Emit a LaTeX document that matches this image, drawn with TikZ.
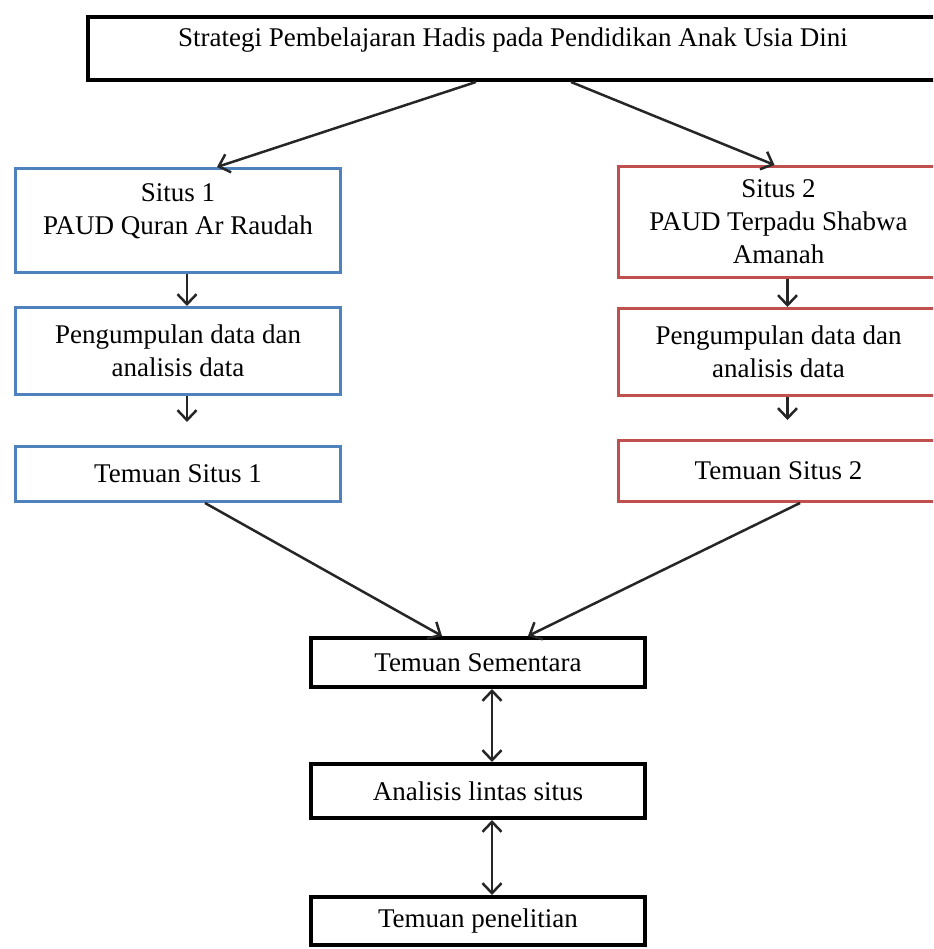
\documentclass[tikz,border=0pt]{standalone}
\usepackage{fontspec}
\setmainfont{Liberation Serif}
\usetikzlibrary{arrows.meta}
\definecolor{biru}{RGB}{79,129,189}
\definecolor{merah}{RGB}{192,80,77}

\begin{document}
\begin{tikzpicture}[x=1pt,y=-1pt,
	kotak/.style={draw,rectangle,align=center,inner sep=0pt,font=\fontsize{27}{33}\selectfont},
	kotakhitam/.style={kotak,line width=4pt,minimum width=334},
	kotakbiru/.style={kotak,draw=biru,line width=3pt,minimum width=325},
	kotakmerah/.style={kotak,draw=merah,line width=3pt,minimum width=320},
	ujungpanah/.tip={Straight Barb[length=10pt,width=19pt]},
	panah/.style={line width=2.5pt,draw=black!85,-ujungpanah},
	panahdua/.style={line width=2.5pt,draw=black!85,ujungpanah-ujungpanah}]
					\clip (0,0) rectangle (933,949);

					\node[kotakhitam,minimum width=850,minimum height=63,text depth=22pt] (strategi) at (513,48.5) {Strategi Pembelajaran Hadis pada Pendidikan Anak Usia Dini};

					\node[kotakbiru,minimum height=104,text depth=22pt] (situs1) at (178,220.5) {Situs 1\\PAUD Quran Ar Raudah};
					\node[kotakbiru,minimum height=87] (kumpul1) at (178,351) {Pengumpulan data dan\\analisis data};
					\node[kotakbiru,minimum height=55] (temuan1) at (178,474) {Temuan Situs 1};

					\node[kotakmerah,minimum height=111] (situs2) at (778.5,222) {Situs 2\\PAUD Terpadu Shabwa\\Amanah};
					\node[kotakmerah,minimum height=87] (kumpul2) at (778.5,352) {Pengumpulan data dan\\analisis data};
					\node[kotakmerah,minimum height=61] (temuan2) at (778.5,471) {Temuan Situs 2};

					\node[kotakhitam,minimum height=49] (sementara) at (478,662.5) {Temuan Sementara};
					\node[kotakhitam,minimum height=54] (lintas) at (478,791) {Analisis lintas situs};
					\node[kotakhitam,minimum height=48] (penelitian) at (478,921) {Temuan penelitian};

					\coordinate (ujung1) at ([xshift=9pt,yshift=23pt]temuan1.north);
					\coordinate (ujung2) at ([xshift=9pt,yshift=19pt]temuan2.north);

					\draw[panah] ([xshift=-37pt]strategi.south) -- ([xshift=39pt]situs1.north);
					\draw[panah] ([xshift=58pt]strategi.south) -- ([xshift=-4pt]situs2.north);

					\draw[panah] ([xshift=9pt]situs1.south) -- ([xshift=9pt]kumpul1.north);
					\draw[panah] ([xshift=9pt]kumpul1.south) -- (ujung1);
					\draw[panah] ([xshift=9pt]situs2.south) -- ([xshift=9pt]kumpul2.north);
					\draw[panah] ([xshift=9pt]kumpul2.south) -- (ujung2);

					\draw[panah] ([xshift=27pt]temuan1.south) -- ([xshift=-36pt]sementara.north);
					\draw[panah] ([xshift=21.5pt]temuan2.south) -- ([xshift=50pt]sementara.north);

					\draw[panahdua] ([xshift=14pt]sementara.south) -- ([xshift=14pt]lintas.north);
					\draw[panahdua] ([xshift=14pt]lintas.south) -- ([xshift=14pt]penelitian.north);
				\end{tikzpicture}
\end{document}
